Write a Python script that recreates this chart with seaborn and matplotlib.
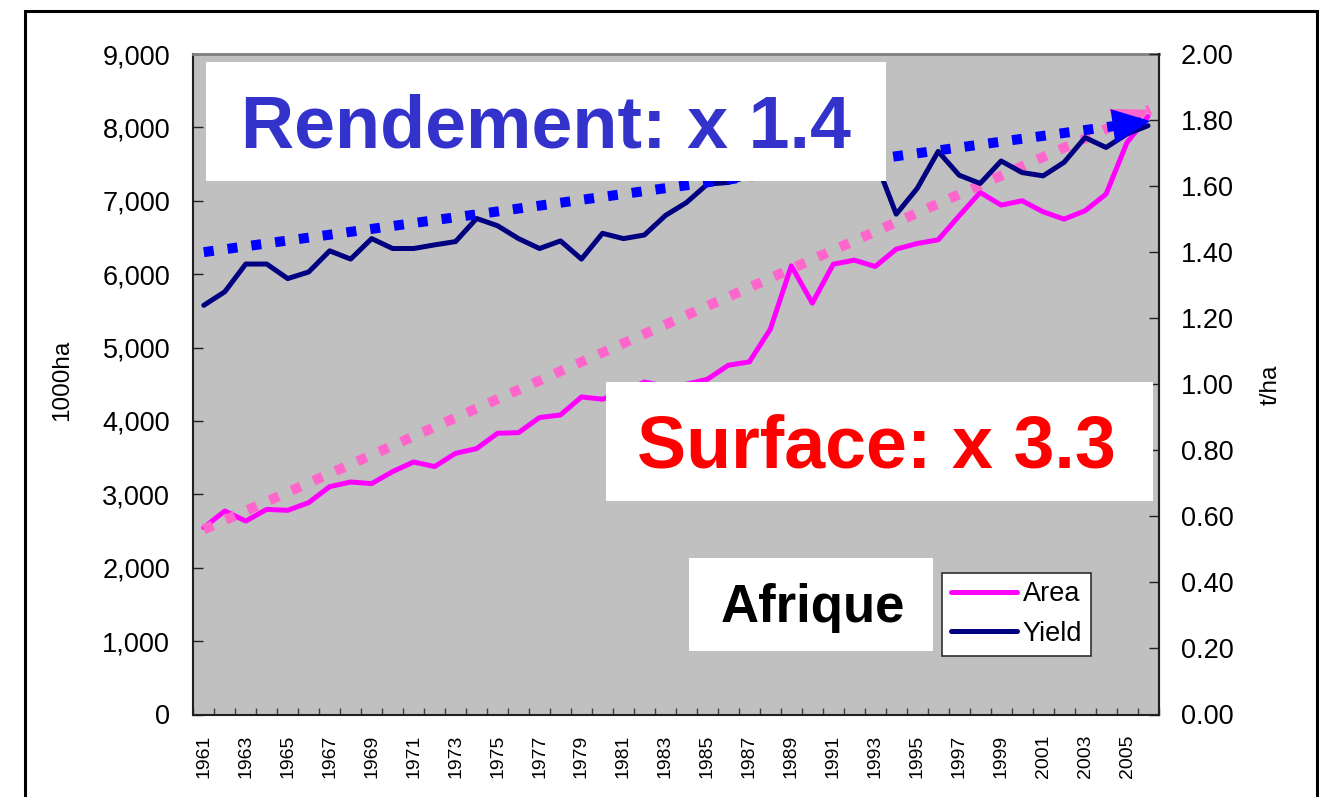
import matplotlib
matplotlib.use('Agg')
import matplotlib.pyplot as plt
import seaborn as sns
from matplotlib.patches import Rectangle
from matplotlib.ticker import FuncFormatter, MultipleLocator

# Africa: harvested area (1000 ha) and yield (t/ha), 1961-2006
years = list(range(1961, 2007))
area = [2546, 2773, 2636, 2795, 2782, 2887, 3105, 3168, 3146, 3310,
        3441, 3378, 3559, 3623, 3832, 3841, 4046, 4082, 4327, 4296,
        4400, 4530, 4470, 4500, 4568, 4759, 4805, 5250, 6114, 5605,
        6136, 6191, 6105, 6341, 6418, 6468, 6795, 7114, 6941, 7000,
        6850, 6750, 6864, 7091, 7795, 8150]
yield_t = [1.239, 1.280, 1.364, 1.364, 1.320, 1.340, 1.404, 1.379, 1.441, 1.411,
           1.411, 1.422, 1.432, 1.502, 1.480, 1.441, 1.411, 1.434, 1.379, 1.457,
           1.441, 1.452, 1.511, 1.550, 1.606, 1.611, 1.630, 1.640, 1.660, 1.650,
           1.670, 1.690, 1.680, 1.515, 1.593, 1.705, 1.633, 1.608, 1.676, 1.641,
           1.631, 1.672, 1.747, 1.717, 1.758, 1.783]

# hand-drawn trend arrows (start, tip)
trend_years = [1961, 2006.1]
trend_area = [2521, 8243]
trend_yield = [1.40, 1.797]

W, H = 1319, 797


def fx(x):
    return x / W


def fy(y):
    return 1 - y / H


sns.set_style('white')
plt.rcParams['font.family'] = ['Liberation Sans', 'DejaVu Sans']
plt.rcParams['text.color'] = 'black'
plt.rcParams['xtick.color'] = 'black'
plt.rcParams['ytick.color'] = 'black'

fig = plt.figure(figsize=(W / 100, H / 100), dpi=100)
ax = fig.add_axes([fx(193.3), fy(714.5), (1158.5 - 193.3) / W, (714.5 - 54) / H])
ax2 = ax.twinx()
ax.set_facecolor('#C0C0C0')

# data lines
sns.lineplot(x=years, y=area, ax=ax, color='#FF00FF', lw=3.6, legend=False)
sns.lineplot(x=years, y=yield_t, ax=ax2, color='#000080', lw=3.6, legend=False)
area_line = ax.lines[0]
yield_line = ax2.lines[0]

# dotted trends
ax.plot(trend_years, trend_area, color='#FF66CC', lw=7.2,
        linestyle=(0, (1, 1.4)), dash_capstyle='butt')
ax2.plot(trend_years, trend_yield, color='#0000FF', lw=7.2,
         linestyle=(0, (1, 1.4)), dash_capstyle='butt')
head = '-|>,head_length=1.35,head_width=0.62'
ax.annotate('', xy=(trend_years[1], trend_area[1]), xytext=(trend_years[0], trend_area[0]),
            arrowprops=dict(arrowstyle=head, mutation_scale=20, lw=0, color='#FF66CC',
                            shrinkA=0, shrinkB=0))
ax2.annotate('', xy=(trend_years[1], trend_yield[1]), xytext=(trend_years[0], trend_yield[0]),
             arrowprops=dict(arrowstyle=head, mutation_scale=20, lw=0, color='#0000FF',
                             shrinkA=0, shrinkB=0))

# axes
ax.set_xlim(1960.5, 2006.5)
ax.set_ylim(0, 9000)
ax2.set_ylim(0, 2.0)
ax.set_xlabel('')
ax.set_ylabel('')
ax2.set_ylabel('')

ax.set_xticks(years[::2])
ax.set_xticklabels([str(y) for y in years[::2]], rotation=90, fontsize=14)
ax.xaxis.set_minor_locator(MultipleLocator(1, offset=0.5))
ax.tick_params(axis='x', which='major', length=0, pad=14.5, labelcolor='black')
ax.tick_params(axis='x', which='minor', direction='in', length=5, width=1,
               color='#404040', bottom=True)

ax.yaxis.set_major_locator(MultipleLocator(1000))
ax.yaxis.set_major_formatter(FuncFormatter(lambda v, p: f'{v:,.0f}'))
ax.tick_params(axis='y', direction='in', length=7, width=1, color='#202020',
               labelsize=19.5, pad=16.6, left=True, labelcolor='black')
ax2.yaxis.set_major_locator(MultipleLocator(0.2))
ax2.yaxis.set_major_formatter(FuncFormatter(lambda v, p: f'{v:.2f}'))
ax2.tick_params(axis='y', direction='in', length=7, width=1, color='#202020',
                labelsize=19.5, pad=16.2, right=True, labelcolor='black')

for name, sp in ax.spines.items():
    sp.set_visible(True)
    sp.set_color('#202020')
    sp.set_linewidth(1.5)
ax.spines['top'].set_color('#808080')
ax.spines['top'].set_linewidth(2)
for name in ['left', 'top', 'bottom']:
    ax2.spines[name].set_visible(False)
ax2.spines['right'].set_color('#202020')
ax2.spines['right'].set_linewidth(1.5)
ax.grid(False)
ax2.grid(False)

# axis titles
fig.text(fx(62), fy(380), '1000ha', rotation=90, ha='center', va='center',
         fontsize=17.5, color='black')
fig.text(fx(1271), fy(385), 't/ha', rotation=90, ha='center', va='center',
         fontsize=17.5, color='black')

# white callout boxes
boxes = [(206, 61.7, 886, 180.7), (606, 381.7, 1153, 500.7), (689, 558.3, 932.7, 650.7)]
for x0, y0, x1, y1 in boxes:
    fig.add_artist(Rectangle((fx(x0), fy(y1)), fx(x1) - fx(x0), fy(y0) - fy(y1),
                             transform=fig.transFigure, facecolor='white',
                             edgecolor='none', zorder=2))
fig.text(fx(546), fy(148), 'Rendement: x 1.4', ha='center', va='baseline',
         fontsize=53, fontweight='bold', color='#3333CC', zorder=3)
fig.text(fx(876.5), fy(468), 'Surface: x 3.3', ha='center', va='baseline',
         fontsize=53, fontweight='bold', color='#FF0000', zorder=3)
fig.text(fx(813), fy(621.7), 'Afrique', ha='center', va='baseline',
         fontsize=38, fontweight='bold', color='black', zorder=3)

# legend
leg = fig.legend([area_line, yield_line], ['Area', 'Yield'], loc='upper left',
                 bbox_to_anchor=(fx(942.3), fy(572.7)), bbox_transform=fig.transFigure,
                 borderaxespad=0, fontsize=19.5, handlelength=2.45, handletextpad=0.2,
                 labelspacing=0.5, borderpad=0.32, frameon=True, fancybox=False,
                 framealpha=1, edgecolor='#303030')
leg.get_frame().set_linewidth(1.2)
for t in leg.get_texts():
    t.set_color('black')

# outer frame
fig.add_artist(Rectangle((fx(25), fy(830)), fx(1317) - fx(25), fy(11) - fy(830),
                         transform=fig.transFigure, facecolor='none',
                         edgecolor='black', linewidth=2.2, zorder=6, clip_on=False))

fig.savefig('out.png', dpi=100)
